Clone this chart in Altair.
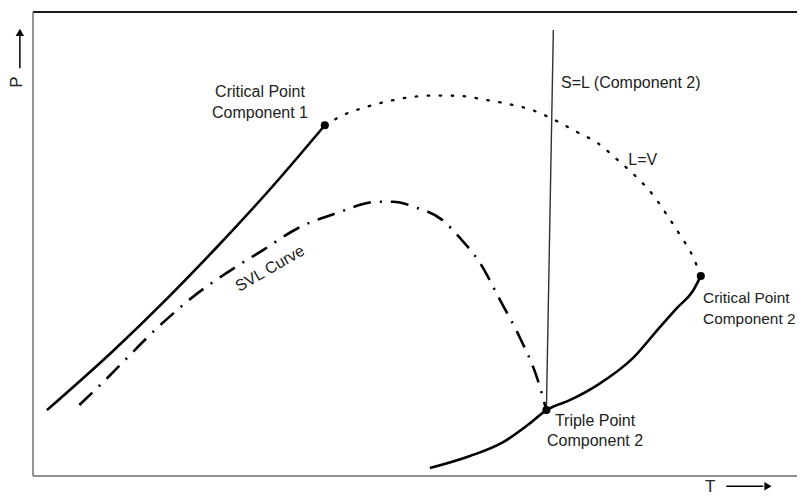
import altair as alt
import pandas as pd

# ---- curves (T, P in arbitrary units) ----
# vapour-pressure curve of component 1 (solid), ends at critical point 1
comp1_T = [1.8, 10.4, 17.1, 23.8, 30.7, 37.8]
comp1_P = [14.2, 27.0, 37.8, 49.3, 61.8, 75.6]

# vapour-pressure curve of component 2 (solid), through triple point to critical point 2
comp2_T = [51.4, 56.6, 60.9, 64.4, 66.5, 69.6, 73.1, 77.7, 81.2, 83.4, 85.4, 86.5]
comp2_P = [1.7, 4.3, 7.3, 11.4, 14.2, 16.4, 19.6, 25.4, 32.1, 36.2, 39.7, 43.1]

# L=V critical locus (dotted)
lv_T = [37.8, 40.2, 43.1, 46.1, 49.2, 52.3, 55.4, 58.5, 61.5, 64.6, 67.6, 70.5,
        73.1, 75.6, 78.0, 80.2, 82.1, 83.9, 85.5, 86.5]
lv_P = [75.6, 77.8, 79.5, 80.8, 81.7, 82.0, 81.9, 81.1, 80.2, 78.9, 76.7, 74.1,
        71.8, 68.3, 64.7, 60.8, 56.3, 51.7, 47.2, 43.1]

# SVL curve (dash-dot)
svl_T = [6.0, 8.7, 16.8, 20.7, 25.3, 29.8, 34.3, 39.4, 44.6, 46.6, 49.7, 53.0,
         55.3, 57.9, 60.5, 63.1, 65.3, 66.5]
svl_P = [15.3, 19.6, 33.0, 38.6, 44.0, 48.7, 53.4, 56.7, 59.1, 59.1, 57.8, 55.2,
         51.3, 45.9, 37.9, 29.7, 21.1, 14.2]

# S=L melting line of component 2 (thin)
sl_T = [66.5, 67.4]
sl_P = [14.2, 96.1]

# marked points: critical point 1, critical point 2, triple point 2
pts_T = [37.8, 86.5, 66.5]
pts_P = [75.6, 43.1, 14.2]

# ---- labels ----
center_text = ["Critical Point", "Component 1", "Triple Point", "Component 2"]
center_T = [29.4, 29.4, 72.8, 72.8]
center_P = [81.7, 77.2, 10.7, 6.4]

left_text = ["S=L (Component 2)", "L=V"]
left_T = [68.4, 77.1]
left_P = [83.6, 67.1]

right_text = ["Critical Point", "Component 2"]
right_T = [86.8, 86.8]
right_P = [37.3, 32.8]

svl_label = ["SVL Curve"]
svl_label_T = [30.7]
svl_label_P = [44.7]

# axis names with arrows (drawn outside the frame)
tname = ["T"]
tname_T = [87.7]
tname_P = [-3.45]
t_arrow_T = [89.8, 94.6]
t_arrow_P = [-2.2, -2.2]
t_head_T = [95.2]
t_head_P = [-2.2]

pname = ["P"]
pname_T = [-2.1]
pname_P = [84.9]
p_arrow_T = [-1.7, -1.7]
p_arrow_P = [87.9, 95.0]
p_head_T = [-1.7]
p_head_P = [95.6]

# frame extent
T_MAX = 98.96
P_MAX = 100
frame_x = [0, 0, 0]
frame_x2 = [T_MAX, T_MAX, 0]
frame_y = [P_MAX, 0, 0]
frame_y2 = [P_MAX, 0, P_MAX]
frame_col = ["#1a1a1a", "#6a6a6a", "#7a7a7a"]
frame_w = [2.2, 1.6, 1.6]


def curve(ts, ps):
    return pd.DataFrame({"T": ts, "P": ps, "i": list(range(len(ts)))})


xs = alt.Scale(domain=[0, T_MAX], nice=False, zero=False)
ys = alt.Scale(domain=[0, P_MAX], nice=False, zero=False)
X = alt.X("T:Q", scale=xs, axis=None)
Y = alt.Y("P:Q", scale=ys, axis=None)
FONT = "Liberation Sans"
TXT = "#222222"

frame = alt.Chart(pd.DataFrame({"x": frame_x, "x2": frame_x2, "y": frame_y,
                                "y2": frame_y2, "c": frame_col, "w": frame_w})).mark_rule().encode(
    x=alt.X("x:Q", scale=xs, axis=None), x2="x2:Q",
    y=alt.Y("y:Q", scale=ys, axis=None), y2="y2:Q",
    color=alt.Color("c:N", scale=None),
    strokeWidth=alt.StrokeWidth("w:Q", scale=None),
)

line_enc = dict(x=X, y=Y, order="i:Q")

c1 = alt.Chart(curve(comp1_T, comp1_P)).mark_line(
    color="black", strokeWidth=2.6, interpolate="monotone").encode(**line_enc)
c2 = alt.Chart(curve(comp2_T, comp2_P)).mark_line(
    color="black", strokeWidth=2.6, interpolate="monotone").encode(**line_enc)
lv = alt.Chart(curve(lv_T, lv_P)).mark_line(
    color="black", strokeWidth=2.3, strokeDash=[1.5, 10.5], strokeCap="round",
    interpolate="monotone").encode(**line_enc)
svl = alt.Chart(curve(svl_T, svl_P)).mark_line(
    color="black", strokeWidth=2.6, strokeDash=[18, 9, 2, 9],
    interpolate="monotone").encode(**line_enc)
sl = alt.Chart(curve(sl_T, sl_P)).mark_line(color="#333333", strokeWidth=1.4).encode(**line_enc)

pts = alt.Chart(pd.DataFrame({"T": pts_T, "P": pts_P})).mark_point(
    filled=True, color="black", opacity=1, size=66, shape="circle").encode(x=X, y=Y)

lab_c = alt.Chart(pd.DataFrame({"T": center_T, "P": center_P, "t": center_text})).mark_text(
    font=FONT, fontSize=16, color=TXT, align="center", baseline="alphabetic").encode(x=X, y=Y, text="t:N")
lab_l = alt.Chart(pd.DataFrame({"T": left_T, "P": left_P, "t": left_text})).mark_text(
    font=FONT, fontSize=16, color=TXT, align="left", baseline="alphabetic").encode(x=X, y=Y, text="t:N")
lab_r = alt.Chart(pd.DataFrame({"T": right_T, "P": right_P, "t": right_text})).mark_text(
    font=FONT, fontSize=15.4, color=TXT, align="left", baseline="alphabetic").encode(x=X, y=Y, text="t:N")
lab_svl = alt.Chart(pd.DataFrame({"T": svl_label_T, "P": svl_label_P, "t": svl_label})).mark_text(
    font=FONT, fontSize=16, color=TXT, align="center", baseline="middle", angle=330).encode(x=X, y=Y, text="t:N")

t_lab = alt.Chart(pd.DataFrame({"T": tname_T, "P": tname_P, "t": tname})).mark_text(
    font=FONT, fontSize=17, color=TXT, align="center", baseline="alphabetic").encode(x=X, y=Y, text="t:N")
t_line = alt.Chart(curve(t_arrow_T, t_arrow_P)).mark_line(color="black", strokeWidth=1.5).encode(**line_enc)
t_head = alt.Chart(pd.DataFrame({"T": t_head_T, "P": t_head_P})).mark_point(
    shape="triangle-right", filled=True, color="black", opacity=1, size=70).encode(x=X, y=Y)

p_lab = alt.Chart(pd.DataFrame({"T": pname_T, "P": pname_P, "t": pname})).mark_text(
    font=FONT, fontSize=17, color=TXT, align="center", baseline="middle", angle=270).encode(x=X, y=Y, text="t:N")
p_line = alt.Chart(curve(p_arrow_T, p_arrow_P)).mark_line(color="black", strokeWidth=1.5).encode(**line_enc)
p_head = alt.Chart(pd.DataFrame({"T": p_head_T, "P": p_head_P})).mark_point(
    shape="triangle-up", filled=True, color="black", opacity=1, size=70).encode(x=X, y=Y)

chart = alt.layer(
    frame, sl, lv, svl, c1, c2, pts, lab_c, lab_l, lab_r, lab_svl,
    t_lab, t_line, t_head, p_lab, p_line, p_head,
).properties(
    width=764, height=464,
    autosize=alt.AutoSizeParams(type="none"),
    padding={"left": 25, "top": 4, "right": 0, "bottom": 20},
    background="white",
).configure_view(stroke=None)

chart.save("out.html", embed_options={"renderer": "svg", "actions": False})
